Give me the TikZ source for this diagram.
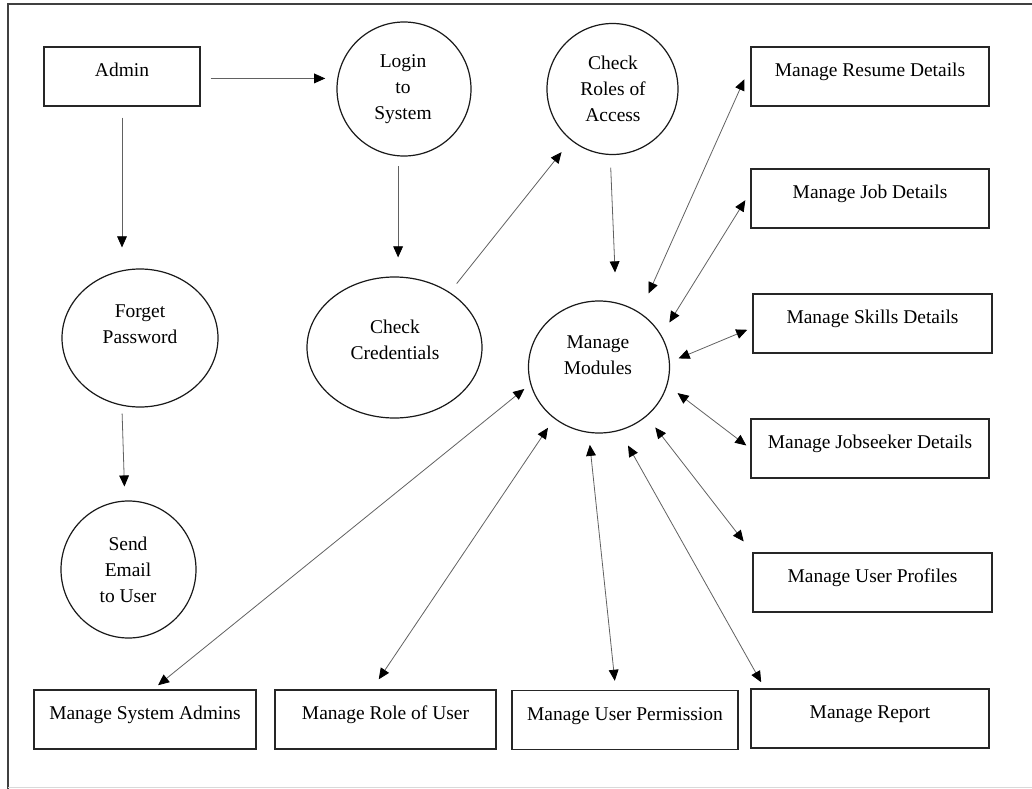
\documentclass[tikz,border=0pt]{standalone}
\usepackage{fontspec}
\setmainfont{Liberation Serif}
\usetikzlibrary{arrows.meta,shapes.geometric}
\newcommand{\pxu}{0.75pt}
\begin{document}
\begin{tikzpicture}[x=0.75pt,y=-0.75pt,
  txtfont/.style={font=\fontsize{14.6}{19.5}\selectfont},
  box/.style={draw=black!85,line width=1.1pt,inner sep=0pt,txtfont,
    minimum width=#1*\pxu,minimum height=59*\pxu,text height=8pt,text depth=8pt},
  proc/.style 2 args={draw=black!90,line width=0.9pt,ellipse,inner sep=0pt,
    minimum width=#1*\pxu,minimum height=#2*\pxu},
  lbl/.style={align=center,inner sep=0pt,txtfont},
  tipA/.tip={Triangle[length=8.3pt,width=7.3pt,black]},
  flow/.style={draw=black!62,line width=0.6pt,-tipA},
  bflow/.style={draw=black!62,line width=0.6pt,tipA-tipA},
]
\useasboundingbox (0,0) rectangle (1032,789);
% frame
\draw[black!75,line width=1.2pt] (8,789) -- (8,4) -- (1032,4);
\draw[black!15,line width=0.8pt] (8,787.5) -- (1032,787.5);

% boxes
\node[box=156] (admin) at (122,76.5) {Admin};
\node[box=238] (resume) at (870,76.5) {Manage Resume Details};
\node[box=238] (job) at (870,198.5) {Manage Job Details};
\node[box=239] (skills) at (872.5,323.5) {Manage Skills Details};
\node[box=238] (jobseeker) at (870,448.5) {Manage Jobseeker Details};
\node[box=239] (profiles) at (872.5,582.5) {Manage User Profiles};
\node[box=238] (report) at (870,718.5) {Manage Report};
\node[box=226] (perm) at (625,720) {Manage User Permission};
\node[box=221] (role) at (385.5,719.5) {Manage Role of User};
\node[box=222] (sysadm) at (145,719.5) {Manage System Admins};

% processes
\node[proc={134}{134}] (login) at (404,89) {};
\node[proc={131}{131}] (roles) at (612.5,89) {};
\node[proc={156}{138}] (forget) at (140,338) {};
\node[proc={175}{141}] (cred) at (394.5,347.5) {};
\node[proc={141}{132}] (mm) at (599,367) {};
\node[proc={135}{137}] (send) at (128.5,569.5) {};

\node[lbl] (logint) at (403,89) {Login\\to\\System};
\node[lbl] (rolest) at (613,89) {Check\\Roles of\\Access};
\node[lbl] (forgett) at (140,324.5) {Forget\\Password};
\node[lbl] (credt) at (395,340) {Check\\Credentials};
\node[lbl] (mmt) at (598,355.5) {Manage\\Modules};
\node[lbl] (sendt) at (128,569.5) {Send\\Email\\to User};

% one-way flows
\draw[flow,shorten <=10*\pxu,shorten >=12*\pxu] (admin.east |- login.171) -- (login.171);
\draw[flow,shorten <=11*\pxu,shorten >=21*\pxu] (admin.south) -- (admin.south |- forget.north);
\draw[flow,shorten <=8*\pxu,shorten >=14*\pxu] (forget.255) -- (send.93);
\draw[flow,shorten <=10*\pxu,shorten >=19*\pxu] (login.265) -- (login.265 |- cred.north);
\draw[flow,shorten <=11*\pxu,shorten >=15*\pxu] (cred.45) -- (roles.231);
\draw[flow,shorten <=12.5*\pxu,shorten >=30*\pxu] (roles.268) -- (mm.75);

% two-way flows
\draw[bflow,shorten <=21*\pxu,shorten >=14.5*\pxu] (mm.53) -- (resume.175);
\draw[bflow,shorten <=15*\pxu,shorten >=9.4*\pxu] (mm.27) -- (job.177);
\draw[bflow,shorten <=9.4*\pxu,shorten >=5.4*\pxu] (mm.4) -- (skills.182);
\draw[bflow,shorten <=12.8*\pxu,shorten >=5*\pxu] (mm.345) -- (jobseeker.180);
\draw[bflow,shorten <=14*\pxu,shorten >=14*\pxu] (mm.314) -- (profiles.166);
\draw[bflow,shorten <=17*\pxu,shorten >=6.9*\pxu] (mm.288) -- (report.164);
\draw[bflow,shorten <=12*\pxu,shorten >=9*\pxu] (mm.261) -- (perm.107);
\draw[bflow,shorten <=11*\pxu,shorten >=12*\pxu] (mm.229) -- (role.114);
\draw[bflow,shorten <=7.7*\pxu,shorten >=6.4*\pxu] (mm.194) -- (sysadm.75);
\end{tikzpicture}
\end{document}
